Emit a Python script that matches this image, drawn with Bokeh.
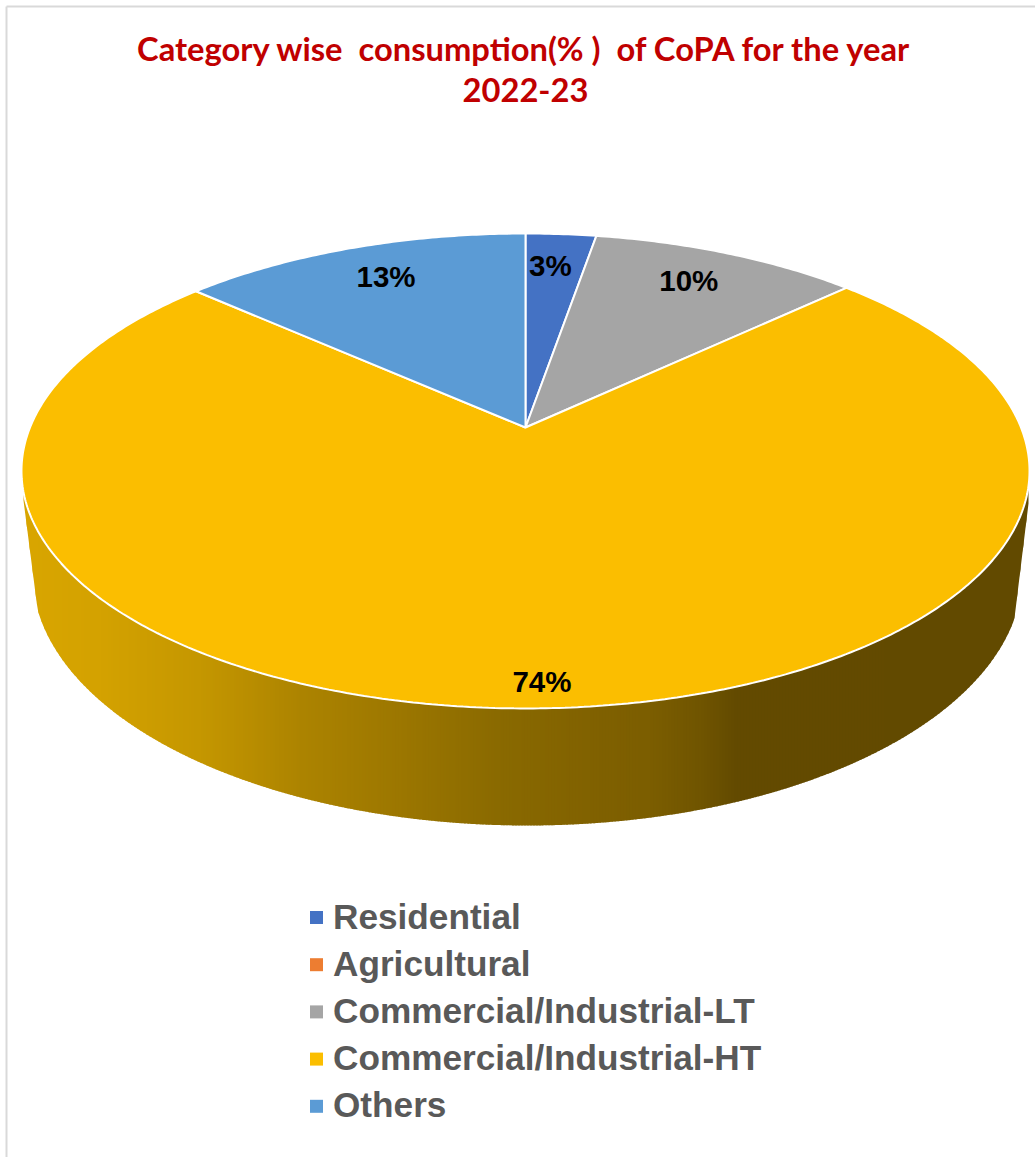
import numpy as np
from bokeh.plotting import figure
from bokeh.models import Range1d
from bokeh.core.properties import value
from bokeh.embed import file_html
from bokeh.resources import INLINE

title_lines = ["Category wise \u00a0consumption(% ) \u00a0of CoPA for the year", "2022-23"]
categories = ["Residential", "Agricultural", "Commercial/Industrial-LT", "Commercial/Industrial-HT", "Others"]
shares = [2.7, 0.0, 10.3, 73.6, 13.4]
colors = ["#4472C4", "#ED7D31", "#A5A5A5", "#FBBE00", "#5B9BD5"]
label_radius = [0.815, 0.0, 0.815, 0.92, 0.815]
label_turn = [-0.8, 0.0, -1.0, -1.0, 1.0]

W, H = 1035, 1157
p = figure(width=W, height=H, x_range=Range1d(0, W), y_range=Range1d(H, 0),
           output_backend="svg", toolbar_location=None, min_border=0,
           background_fill_color="white", border_fill_color="white")
p.axis.visible = False
p.grid.visible = False
p.outline_line_color = None

# outer frame of the picture
p.line([6, 6], [6, H], line_color="#d9d9d9", line_width=2)
p.line([6, W], [6, 6], line_color="#d9d9d9", line_width=2)

# perspective projection of the unit disc
CX, CY, MX, MY, T = 525.0, 427.0, 495.5, 229.5, 0.183
def project(u, v):
    d = 1 + T * v
    return CX + MX * u / d, CY - MY * v / d
def rim_lower(x):
    a, cx, cy, b = 504.0, 526.0, 470.5, 237.5
    return cy + b * np.sqrt(np.clip(1 - ((x - cx) / a) ** 2, 0, 1))
def base_lower(x):
    a, cx, cy, b = 495.0, 527.0, 573.0, 252.0
    y = cy + b * np.sqrt(np.clip(1 - ((x - cx) / a) ** 2, 0, 1))
    # tapering silhouette at the two ends of the wall
    left = 500 + (x - 23) * (593 - 500) / (35 - 23)
    right = 503 + (1028 - x) * (593 - 503) / (1028 - 1017)
    y = np.where((x < 60) & (left < y), left, y)
    y = np.where((x > 990) & (right < y), right, y)
    return y

# side wall with its horizontal shading
shade_x = [22, 100, 200, 300, 400, 500, 600, 650, 700, 735, 1030]
shade_r = [217, 212, 197, 173, 156, 138, 128, 124, 112, 100, 98]
shade_g = [166, 162, 151, 132, 119, 106, 97, 94, 85, 75, 74]
edges = np.arange(23, 1028, 3.0)
xs, ys, cols = [], [], []
for x0 in edges:
    x1 = min(x0 + 4, 1028)
    seg = np.linspace(x0, x1, 4)
    top = rim_lower(seg) - 3
    bottom = np.maximum(base_lower(seg), top)
    xs.append(list(seg) + list(seg[::-1]))
    ys.append(list(top) + list(bottom[::-1]))
    xm = x0 + 1.5
    cols.append("#%02x%02x00" % (int(np.interp(xm, shade_x, shade_r)), int(np.interp(xm, shade_x, shade_g))))
p.patches(xs, ys, fill_color=cols, line_color=None)

# top face slices
edges_pct = np.concatenate([[0], np.cumsum(shares)])
for i, col in enumerate(colors):
    if shares[i] <= 0:
        continue
    th = np.radians(np.linspace(edges_pct[i], edges_pct[i + 1], max(int(shares[i] * 6), 8)) * 3.6)
    px, py = project(np.sin(th), np.cos(th))
    p.patch([CX] + list(px), [CY] + list(py), fill_color=col, line_color="white", line_width=2)

# percentage labels
for i, s in enumerate(shares):
    if s <= 0:
        continue
    th = np.radians((edges_pct[i] + edges_pct[i + 1]) / 2 * 3.6 + label_turn[i])
    lx, ly = project(label_radius[i] * np.sin(th), label_radius[i] * np.cos(th))
    p.text([float(lx)], [float(ly)], text=["%d%%" % round(s)], text_color="black",
           text_font=value("Liberation Sans"), text_font_style="bold", text_font_size="29.5px",
           text_align="center", text_baseline="middle")

# title
p.text([525, 525], [48, 89], text=title_lines, text_color="#C00000",
       text_font=value("Lato"), text_font_style="bold", text_font_size="32.7px",
       text_align="center", text_baseline="middle")

# legend
leg_y = [917 + 47.2 * i for i in range(len(categories))]
p.scatter([316] * len(categories), leg_y, marker="square", size=13, fill_color=colors, line_color=None)
p.text([332.5] * len(categories), [y - 1.5 for y in leg_y], text=categories, text_color="#595959",
       text_font=value("Liberation Sans"), text_font_style="bold", text_font_size="35.2px",
       text_align="left", text_baseline="middle")

open("out.html", "w").write(file_html(p, INLINE))
